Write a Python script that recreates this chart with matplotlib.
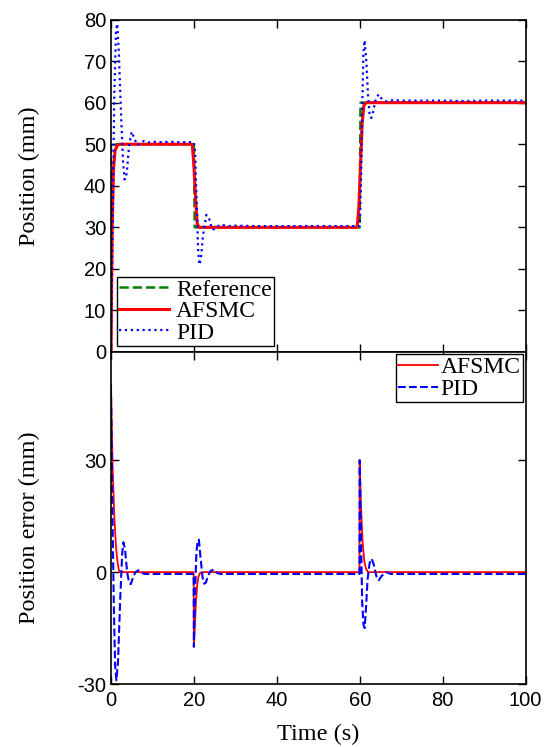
import matplotlib
matplotlib.use("Agg")
import matplotlib.pyplot as plt

plt.rcParams["font.family"] = ["Liberation Sans", "DejaVu Sans"]
plt.rcParams["axes.unicode_minus"] = False

# ---------------- data ----------------
ref_t = [0, 0, 20, 20.2, 60, 60.2, 100]
ref_y = [0, 50, 50, 30, 30, 60, 60]

afsmc_t = [0, 0.3, 0.6, 1.0, 1.5, 2.0, 19.6, 20.0, 20.4, 20.8, 21.2, 59.4, 59.8, 60.2, 60.6, 61.0, 61.5, 100]
afsmc_y = [0, 30, 44, 48.5, 49.7, 50, 50, 45, 37, 31, 30, 30, 35, 45, 55, 59.3, 60, 60]

pid_t = [0, 0.4, 0.8, 1.2, 1.5, 1.9, 2.4, 2.9, 3.3, 3.8, 4.4, 5.0, 5.6, 6.3, 7.0, 8, 9, 10, 12, 14, 16, 18,
         20.0, 20.3, 20.7, 21.0, 21.3, 21.7, 22.2, 23.0, 23.7, 24.4, 25.0, 26.2, 27.3, 28.5, 30, 35, 40, 45, 50, 55,
         60.0, 60.3, 60.6, 60.9, 61.2, 61.6, 62.0, 62.4, 62.8, 63.3, 63.9, 64.6, 65.4, 66.5, 68, 70, 75, 80, 85, 90, 95, 100]
pid_y = [0, 30, 62, 77, 79, 72, 58, 46, 41.5, 43, 50, 53, 51.5, 49.8, 50.3, 50.8, 50.4, 50.6, 50.5, 50.6, 50.5, 50.5,
         50.5, 48, 35, 25, 21, 22.5, 28, 33, 32, 29.5, 29.6, 30.6, 30.5, 30.3, 30.4, 30.3, 30.3, 30.3, 30.3, 30.3,
         30.3, 40, 58, 72, 75, 70, 62, 57, 56.3, 58, 61, 62, 60.8, 60.3, 60.6, 60.5, 60.5, 60.5, 60.4, 60.5, 60.5, 60.5]

# position errors
eafsmc_t = [0, 0.4, 0.8, 1.2, 1.6, 2.0, 19.95, 20.0, 20.2, 20.5, 20.8, 21.1, 21.5, 22, 59.95, 60.0, 60.3, 60.7, 61.1, 61.5, 62.0, 100]
eafsmc_y = [50, 28, 15, 7, 2.5, 0, 0, -20, -15, -8, -3.5, -1.2, -0.2, 0, 0, 30, 18, 8, 3, 1, 0, 0]

epid_t = [0, 0.3, 0.7, 1.0, 1.3, 1.7, 2.2, 2.7, 3.0, 3.4, 3.9, 4.4, 4.8, 5.3, 5.9, 6.6, 7.2, 7.8, 8.5, 10, 15,
          19.95, 20.0, 20.3, 20.6, 20.9, 21.2, 21.6, 22.1, 22.5, 22.9, 23.4, 24.0, 24.8, 25.5, 26.5, 28, 35, 45, 55,
          59.95, 60.0, 60.3, 60.6, 60.9, 61.2, 61.5, 61.9, 62.4, 62.9, 63.4, 64.0, 64.6, 65.3, 66.4, 67.5, 70, 80, 90, 100]
epid_y = [50, 20, -10, -25, -29, -24, -8, 5, 8, 6, 0, -3, -3.2, -1.5, 0, 0.5, 0.1, -0.4, -0.5, -0.5, -0.5,
          -0.5, -20, -5, 5, 8.5, 8.7, 4, -1.5, -3.1, -2.8, -1, 0.3, 0.7, -0.2, -0.5, -0.5, -0.5, -0.5, -0.5,
          -0.5, 30, 10, -8, -14, -15, -10, -2, 2.5, 3.6, 2, -1, -2.2, -1, 0, -0.5, -0.5, -0.5, -0.5, -0.5]

pos_ticks = [0, 10, 20, 30, 40, 50, 60, 70, 80]
err_ticks = [-30, 0, 30]
time_ticks = [0, 20, 40, 60, 80, 100]

# ---------------- figure ----------------
serif = "Liberation Serif"
fig = plt.figure(figsize=(5.44, 7.47), dpi=100)
ax1 = fig.add_axes([0.204, 0.5288, 0.762, 0.445])
ax2 = fig.add_axes([0.204, 0.0843, 0.762, 0.4444])

for ax in (ax1, ax2):
    ax.tick_params(direction="in", top=True, right=True, length=6, width=1, labelsize=14.5, colors="black")
    for s in ax.spines.values():
        s.set_linewidth(1.2)
    ax.set_xlim(0, 100)
    ax.set_xticks(time_ticks)
ax2.tick_params(axis="x", pad=5)

ax1.plot(ref_t, ref_y, color="green", ls="--", lw=1.8, label="Reference")
ax1.plot(afsmc_t, afsmc_y, color="red", ls="-", lw=2.2, label="AFSMC")
ax1.plot(pid_t, pid_y, color="blue", ls=":", lw=1.6, label="PID")
ax1.set_ylim(0, 80)
ax1.set_yticks(pos_ticks)
ax1.set_xticklabels([])
ax1.set_ylabel("Position (mm)", fontfamily=serif, fontsize=17.5)
ax1.yaxis.set_label_coords(-0.17, 0.53)
leg1 = ax1.legend(loc="lower left", prop={"family": serif, "size": 17}, frameon=True, fancybox=False,
                  edgecolor="black", framealpha=1, borderaxespad=0.25, borderpad=0.1, labelspacing=0.0,
                  handlelength=2.1, handletextpad=0.3)
leg1.get_frame().set_linewidth(1.0)

ax2.plot(eafsmc_t, eafsmc_y, color="red", ls="-", lw=1.3, label="AFSMC")
ax2.plot(epid_t, epid_y, color="blue", ls="--", lw=1.5, label="PID")
ax2.set_ylim(-30, 59)
ax2.set_yticks(err_ticks)
ax2.set_ylabel("Position error (mm)", fontfamily=serif, fontsize=17.5)
ax2.yaxis.set_label_coords(-0.17, 0.47)
ax2.set_xlabel("Time (s)", fontfamily=serif, fontsize=17.5, labelpad=10)
leg2 = ax2.legend(loc="upper right", prop={"family": serif, "size": 17}, frameon=True, fancybox=False,
                  edgecolor="black", framealpha=1, borderaxespad=0.1, borderpad=0.1, labelspacing=0.0,
                  handlelength=1.7, handletextpad=0.1)
leg2.get_frame().set_linewidth(1.0)

fig.savefig("out.png", dpi=100)
